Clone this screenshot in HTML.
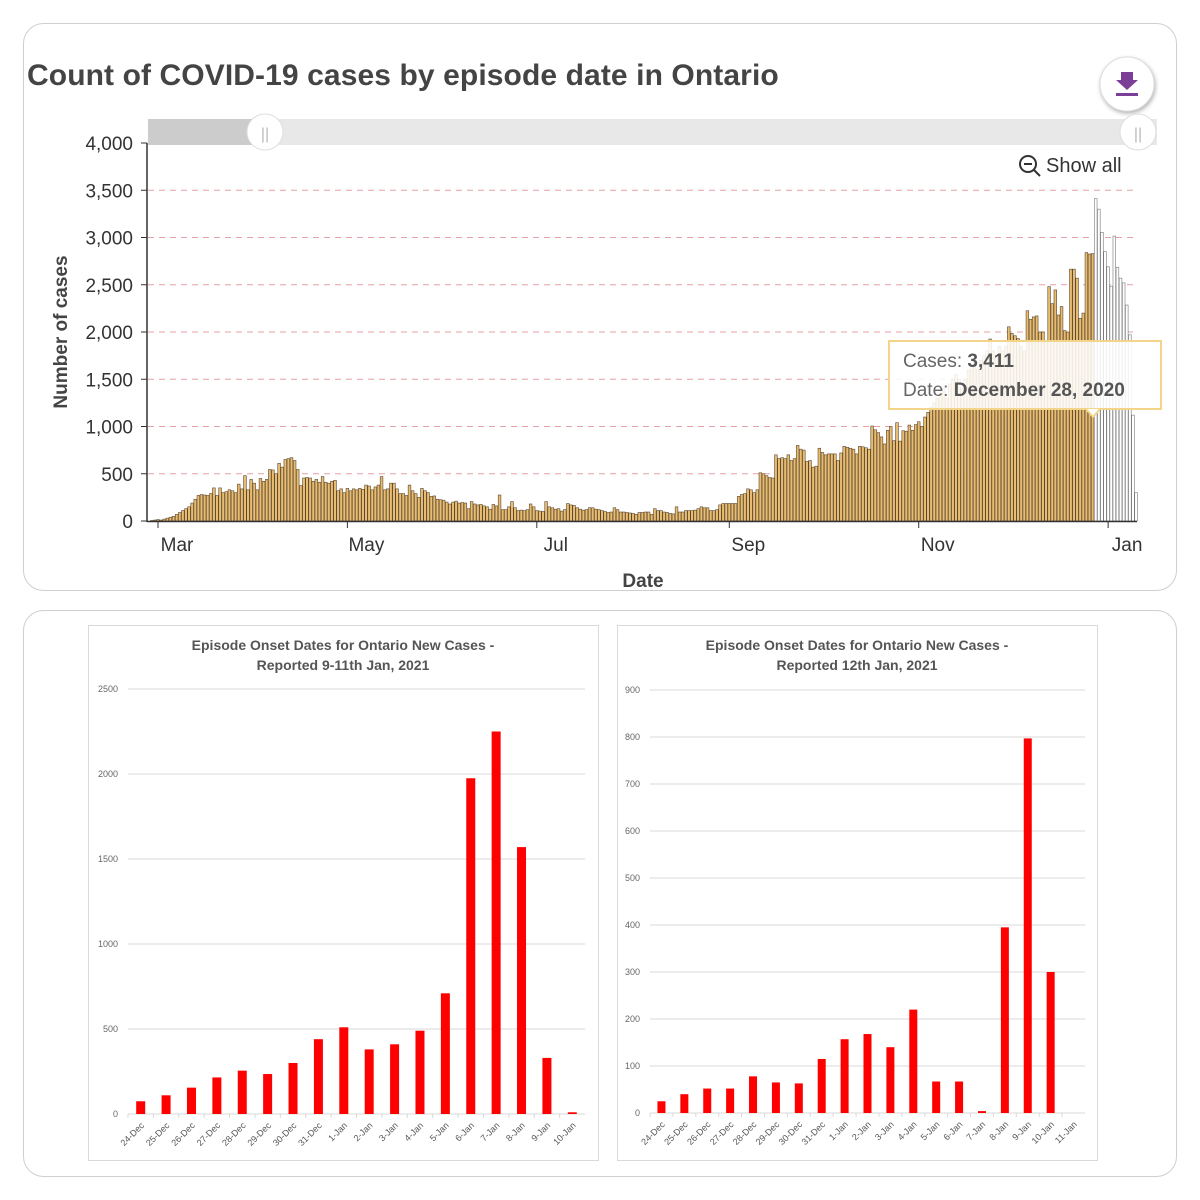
<!DOCTYPE html>
<html><head><meta charset="utf-8"><style>
body{margin:0;width:1200px;height:1200px;background:#fff;font-family:"Liberation Sans",sans-serif;overflow:hidden}
svg{position:absolute;left:0;top:0}
</style></head><body>
<svg id="s" width="1200" height="1200" xmlns="http://www.w3.org/2000/svg">
<rect x="23.5" y="23.5" width="1153" height="567" rx="20" fill="#fff" stroke="#cfcfcf"/>
<rect x="23.5" y="610.5" width="1153" height="566" rx="20" fill="#fff" stroke="#cfcfcf"/>
<text x="27" y="85" font-size="30" font-weight="bold" fill="#444" letter-spacing="0.1">Count of COVID-19 cases by episode date in Ontario</text>
<g>
<circle cx="1127" cy="84" r="27" fill="#fff" stroke="#ddd" style="filter:drop-shadow(1px 2px 2px rgba(0,0,0,.3))"/>
<path d="M1121 72h12v8h5l-11 10-11-10h5z" fill="#7b3f98"/><rect x="1116" y="93" width="22" height="3" fill="#7b3f98"/>
</g>
<g>
<rect x="148" y="119" width="1009" height="26" fill="#e8e8e8"/>
<rect x="148" y="119" width="117" height="26" fill="#cccccc"/>
<circle cx="265" cy="132" r="18" fill="#fff" stroke="#ddd"/>
<text x="265" y="139" font-size="16" fill="#bbb" text-anchor="middle">||</text>
<circle cx="1138" cy="132" r="18" fill="#fff" stroke="#ddd"/>
<text x="1138" y="139" font-size="16" fill="#bbb" text-anchor="middle">||</text>
</g>
<g>
<circle cx="1028" cy="164" r="8" fill="none" stroke="#333" stroke-width="2"/><line x1="1034" y1="170" x2="1040" y2="176" stroke="#333" stroke-width="2"/><line x1="1024" y1="164" x2="1032" y2="164" stroke="#333" stroke-width="2"/>
<text x="1046" y="172" font-size="20" fill="#333">Show all</text>
</g>
<g id="topg"></g>
<text transform="translate(67,332) rotate(-90)" font-size="19" font-weight="bold" fill="#444" text-anchor="middle">Number of cases</text>
<text x="643" y="587" font-size="19" font-weight="bold" fill="#444" text-anchor="middle">Date</text>
<g id="bl"></g><g id="br"></g>
<g>
<rect x="889" y="341" width="272" height="68" fill="rgba(255,255,255,0.88)" stroke="#f3d58a" stroke-width="2"/>
<path d="M1086 409l7 8 7-8" fill="#fff" stroke="#f3d58a" stroke-width="2"/>
<text x="903" y="367" font-size="19" fill="#666">Cases: <tspan font-weight="bold" fill="#555">3,411</tspan></text>
<text x="903" y="396" font-size="19" fill="#666">Date: <tspan font-weight="bold" fill="#555">December 28, 2020</tspan></text>
</g>
<rect x="88.5" y="625.5" width="510" height="535" fill="none" stroke="#d9d9d9"/>
<rect x="617.5" y="625.5" width="480" height="535" fill="none" stroke="#d9d9d9"/>
<text x="343" y="650" font-size="14" font-weight="bold" fill="#555" text-anchor="middle">Episode Onset Dates for Ontario New Cases -</text>
<text x="343" y="670" font-size="14" font-weight="bold" fill="#555" text-anchor="middle">Reported 9-11th Jan, 2021</text>
<text x="857" y="650" font-size="14" font-weight="bold" fill="#555" text-anchor="middle">Episode Onset Dates for Ontario New Cases -</text>
<text x="857" y="670" font-size="14" font-weight="bold" fill="#555" text-anchor="middle">Reported 12th Jan, 2021</text>
</svg>
<script>
const topMonths=["Feb","Mar","Apr","May","Jun","Jul","Aug","Sep","Oct","Nov","Dec","Jan"];
const feb=[5,10];
const mar=[15,10,20,30,40,50,70,90,110,130,150,190,230,270,280,275,270,290,350,270,350,300,310,330,320,300,390,340,480,330,440];
const apr=[400,330,450,420,440,545,540,500,610,570,650,660,670,640,545,375,455,460,455,420,440,410,470,410,400,420,430,320,340,300];
const may=[345,320,340,330,345,335,380,370,330,360,380,470,330,340,400,400,340,290,290,270,380,320,290,250,345,320,300,260,265,230,225];
const jun=[220,200,180,200,210,190,195,190,130,205,180,170,175,160,150,125,175,160,275,120,120,150,205,140,110,115,110,120,180,150];
const jul=[110,105,100,205,150,140,125,130,105,120,185,170,165,140,125,115,120,140,140,125,120,110,100,90,95,140,120,95,95,90,85];
const aug=[80,70,90,90,95,95,70,130,110,110,95,90,80,75,150,95,95,110,110,110,115,130,150,140,140,110,110,120,170,185,185];
const sep=[185,185,185,260,280,290,340,330,300,330,510,500,480,460,455,700,660,670,660,700,640,660,800,760,750,630,640,570,580,770];
const octo=[725,700,710,710,710,640,720,790,780,770,760,710,790,785,775,760,1005,965,935,890,815,960,1000,850,1040,845,955,950,1015,960,1020];
const nov=[1050,1000,1100,1150,1200,1250,1300,1350,1400,1300,1450,1500,1550,1500,1400,1500,1600,1650,1700,1600,1700,1750,1800,1925,1800,1750,1850,1800,1850,2055];
const dec=[1985,1960,1930,1850,1800,2225,2135,2160,2170,2000,2000,1900,2480,2300,2445,2180,2270,2015,2000,2665,2665,2570,2145,2200,2840,2825,2830,3411,3300,3055,2850];
const jan=[2690,2485,3015,2685,2570,2520,2285,1970,1120,300];
const yTicks=[0,500,1000,1500,2000,2500,3000,3500,4000];
const tickLabels=["Mar","May","Jul","Sep","Nov","Jan"];
const tickDayIdx=[2,63,124,186,247,308];
const incompleteFrom=304;
const cases=[].concat(feb,mar,apr,may,jun,jul,aug,sep,octo,nov,dec,jan);

const NS="http://www.w3.org/2000/svg";
function mk(p,t,a){const e=document.createElementNS(NS,t);for(const k in a)e.setAttribute(k,a[k]);p.appendChild(e);return e;}
const topG=document.getElementById('topg');
const ty=v=>521-v*378/4000;
const tx=i=>158+(i-2)*3.105;
yTicks.forEach(v=>{
 if(v>0&&v<4000){const l=mk(topG,'line',{x1:148,x2:1137,y1:ty(v),y2:ty(v),stroke:'#e6a0a8','stroke-dasharray':'6,5'});
 
 }
 mk(topG,'line',{x1:141,x2:147,y1:ty(v),y2:ty(v),stroke:'#333'});
 const t=mk(topG,'text',{x:133,y:ty(v)+7,'font-size':19,fill:'#333','text-anchor':'end'});
 t.textContent=v.toLocaleString('en-US');
 
 
});
cases.forEach((v,i)=>{
 const r=mk(topG,'rect',{x:tx(i)-1.35,y:ty(v),width:2.7,height:521-ty(v),fill:i>=incompleteFrom?'#fff':'#e9bd70',stroke:i>=incompleteFrom?'#777':'#5a4630','stroke-width':0.6});
 
 
});
mk(topG,'line',{x1:147,x2:147,y1:143,y2:522,stroke:'#333','stroke-width':1.5});
mk(topG,'line',{x1:147,x2:1137,y1:521.5,y2:521.5,stroke:'#333','stroke-width':1.5});
tickLabels.forEach((s,k)=>{
 const x=tx(tickDayIdx[k]);
 mk(topG,'line',{x1:x,x2:x,y1:522,y2:528,stroke:'#333'});
 const t=mk(topG,'text',{x:x+19,y:551,'font-size':19,fill:'#333','text-anchor':'middle'});
 t.textContent=s;
 
 
});

const leftCats=["24-Dec","25-Dec","26-Dec","27-Dec","28-Dec","29-Dec","30-Dec","31-Dec","1-Jan","2-Jan","3-Jan","4-Jan","5-Jan","6-Jan","7-Jan","8-Jan","9-Jan","10-Jan"];
const leftVals=[75,110,155,215,255,235,300,440,510,380,410,490,710,1975,2250,1570,330,10];
const leftTicks=[0,500,1000,1500,2000,2500];
const rightCats=["24-Dec","25-Dec","26-Dec","27-Dec","28-Dec","29-Dec","30-Dec","31-Dec","1-Jan","2-Jan","3-Jan","4-Jan","5-Jan","6-Jan","7-Jan","8-Jan","9-Jan","10-Jan","11-Jan"];
const rightVals=[25,40,52,52,78,65,63,115,157,168,140,220,67,67,4,395,797,300,0];
const rightTicks=[0,100,200,300,400,500,600,700,800,900];

function bar(g,cats,vals,ticks,x0,x1,y0,y1,max,bw,name){
 const Y=v=>y0-(v/max)*(y0-y1);
 const step=(x1-x0)/cats.length;
 ticks.forEach(v=>{
  const l=mk(g,'line',{x1:x0,x2:x1,y1:Y(v),y2:Y(v),stroke:'#d9d9d9'});
  
  
  const t=mk(g,'text',{x:x0-10,y:Y(v)+3,'font-size':9,fill:'#666','text-anchor':'end'});
  t.textContent=v;
  
  
 });
 cats.forEach((c,i)=>{
  const cx=x0+step*(i+0.5);
  const r=mk(g,'rect',{x:cx-bw/2,y:Y(vals[i]),width:bw,height:y0-Y(vals[i]),fill:'#ff0000'});
  
  
  mk(g,'line',{x1:x0+step*i,x2:x0+step*i,y1:y0,y2:y0+4,stroke:'#d9d9d9'});
  const t=mk(g,'text',{x:cx+4,y:y0+12,'font-size':9,fill:'#555','text-anchor':'end',transform:`rotate(-45 ${cx+4} ${y0+12})`});
  t.textContent=c;
  
  
 });
}
bar(document.getElementById('bl'),leftCats,leftVals,leftTicks,128,585,1114,689,2500,9,'left');
bar(document.getElementById('br'),rightCats,rightVals,rightTicks,650,1085,1113,690,900,8,'right');
</script>
</body></html>
